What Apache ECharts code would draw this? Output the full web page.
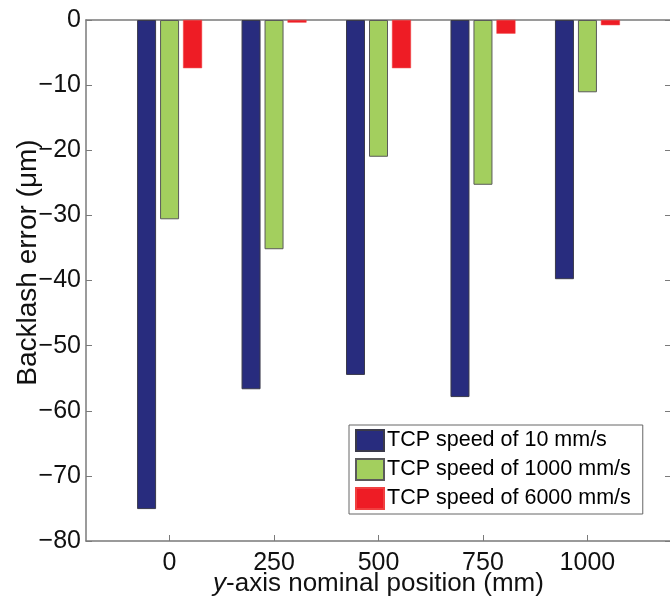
<!DOCTYPE html>
<html>
<head>
<meta charset="utf-8">
<script src="https://cdn.jsdelivr.net/npm/echarts@6/dist/echarts.min.js"></script>
<style>
  html, body { margin: 0; padding: 0; background: #fff; }
  #chart { width: 670px; height: 601px; }
</style>
</head>
<body>
<div id="chart"></div>
<script>
// nominal positions (mm) and backlash error (um) per TCP speed
const positions = [0, 250, 500, 750, 1000];
const speed10 = [-75.1, -56.7, -54.5, -57.9, -39.8];
const speed1000 = [-30.6, -35.2, -21.0, -25.3, -11.1];
const speed6000 = [-7.4, -0.4, -7.4, -2.1, -0.8];
const seriesNames = ['TCP speed of 10 mm/s', 'TCP speed of 1000 mm/s', 'TCP speed of 6000 mm/s'];

const font = 'Liberation Sans, Arial, sans-serif';
const axisGray = '#7a7a7a';
const minus = v => String(v).replace('-', '\u2212');

function pairs(vals) {
    return positions.map((p, i) => [p, vals[i]]);
}

const chart = echarts.init(document.getElementById('chart'));

//公共的坐标轴样式
const frameAxis = {
    axisLine: { show: true, onZero: false, lineStyle: { color: axisGray, width: 1.5 } },
    axisTick: { show: true, inside: true, length: 6, lineStyle: { color: axisGray } },
    splitLine: { show: false }
};

const option = {
    animation: false,
    textStyle: { fontFamily: font },
    grid: { left: 86, top: 20, width: 585, height: 521, outerBoundsMode: 'none', containLabel: false },
    legend: {
        orient: 'vertical',
        left: 349,
        top: 425,
        padding: [4, 12, 4, 6],
        itemGap: 6,
        itemWidth: 28,
        itemHeight: 21,
        icon: 'rect',
        borderColor: '#666',
        borderWidth: 1,
        backgroundColor: '#fff',
        textStyle: { fontSize: 21.5, lineHeight: 22, color: '#000', fontFamily: font, padding: [0, 0, 0, -2] },
        data: seriesNames
    },
    xAxis: [
        Object.assign({}, frameAxis, {
            type: 'value',
            position: 'bottom',
            min: -200,
            max: 1200,
            axisTick: Object.assign({}, frameAxis.axisTick, { customValues: positions }),
            axisLabel: { customValues: positions, fontSize: 25, color: '#111', margin: 10, formatter: v => String(v) },
            name: '{i|y}-axis nominal position (mm)',
            nameLocation: 'middle',
            nameGap: 30,
            nameMoveOverlap: false,
            nameTextStyle: {
                fontSize: 26, color: '#111',
                rich: { i: { fontSize: 26, fontStyle: 'italic', color: '#111' } }
            }
        }),
        Object.assign({}, frameAxis, {
            type: 'value',
            position: 'top',
            min: -200,
            max: 1200,
            axisTick: Object.assign({}, frameAxis.axisTick, { customValues: positions }),
            axisLabel: { show: false }
        })
    ],
    yAxis: [
        Object.assign({}, frameAxis, {
            type: 'value',
            position: 'left',
            min: -80,
            max: 0,
            interval: 10,
            axisLabel: { fontSize: 25, color: '#111', margin: 5, formatter: minus },
            name: 'Backlash error (\u03bcm)',
            nameLocation: 'middle',
            nameGap: 44,
            nameMoveOverlap: false,
            nameTextStyle: { fontSize: 28, color: '#111', padding: [0, 0, 0, 36] }
        }),
        Object.assign({}, frameAxis, {
            type: 'value',
            position: 'right',
            min: -80,
            max: 0,
            interval: 10,
            axisLabel: { show: false }
        })
    ],
    series: [
        {
            name: seriesNames[0],
            type: 'bar',
            barWidth: 19,
            barGap: '21%',
            data: pairs(speed10),
            itemStyle: { color: '#282c7e', borderColor: '#3a3a4a', borderWidth: 1 }
        },
        {
            name: seriesNames[1],
            type: 'bar',
            barWidth: 19,
            barGap: '21%',
            data: pairs(speed1000),
            itemStyle: { color: '#a3cf5e', borderColor: '#5a5a5a', borderWidth: 1 }
        },
        {
            name: seriesNames[2],
            type: 'bar',
            barWidth: 19,
            barGap: '21%',
            data: pairs(speed6000),
            itemStyle: { color: '#ee1c25', borderColor: '#f04040', borderWidth: 0.5 }
        }
    ]
};
chart.setOption(option);
</script>
</body>
</html>
